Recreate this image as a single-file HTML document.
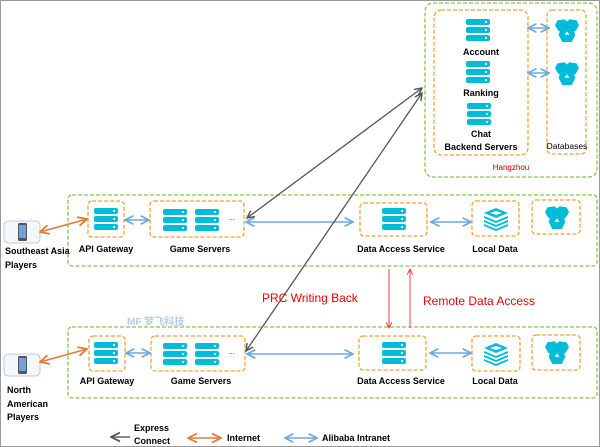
<!DOCTYPE html>
<html><head><meta charset="utf-8"><style>
html,body{margin:0;padding:0;background:#fff}
svg{display:block}
text{font-family:"Liberation Sans","Noto Sans CJK SC",sans-serif;font-weight:bold;font-size:9px;fill:#000}
</style></head><body>
<svg width="600" height="447" viewBox="0 0 600 447" xmlns="http://www.w3.org/2000/svg">
<defs>
<g id="srv">
<rect x="0" y="0" width="24" height="6" rx="2" fill="#00bcd9"/><circle cx="20" cy="3" r="1.1" fill="#fff"/>
<rect x="0" y="8" width="24" height="6" rx="2" fill="#00bcd9"/><circle cx="20" cy="11" r="1.1" fill="#fff"/>
<rect x="0" y="16" width="24" height="6" rx="2" fill="#00bcd9"/><circle cx="20" cy="19" r="1.1" fill="#fff"/>
</g>
<g id="db0">
<polygon points="-8,-8 -2,-9 2,-5 -1,1 -7,1 -10,-4" fill="#00bcd9"/>
<polygon points="8,-8 2,-9 -2,-5 1,1 7,1 10,-4" fill="#00bcd9"/>
<polygon points="-5,-1 5,-1 7,4 4,10 -4,10 -7,4" fill="#00bcd9"/>
<polygon points="0,1 2,4 -2,4" fill="#fff"/>
</g>
<g id="db"><use href="#db0" transform="scale(1.2)"/></g>
<g id="stack">
<polygon points="0,-9 12,-4 0,1 -12,-4" fill="#00bcd9"/>
<polygon points="-12,-1 0,4 12,-1 12,1 0,6 -12,1" fill="#00bcd9"/>
<polygon points="-12,3 0,8 12,3 12,5 0,10 -12,5" fill="#00bcd9"/>
<polygon points="-12,7 0,12 12,7 12,9 0,14 -12,9" fill="#00bcd9"/>
<polygon points="0,-6 6,-4 0,-2 -6,-4" fill="#fff"/>
</g>
<g id="phone">
<rect x="0" y="0" width="36" height="22" rx="4" fill="#f4f7fb" stroke="#a9c0dc" stroke-width="0.8"/>
<rect x="14" y="2" width="9" height="18" rx="1.5" fill="#555"/>
<rect x="15" y="4" width="7" height="13" fill="#6fa0e0"/>
</g>
<marker id="ab" viewBox="0 0 10 10" refX="9" refY="5" markerWidth="7" markerHeight="7" orient="auto-start-reverse"><path d="M1,1 L9,5 L1,9" fill="none" stroke="#6fa8dc" stroke-width="1.6"/></marker>
<marker id="ao" viewBox="0 0 10 10" refX="9" refY="5" markerWidth="7" markerHeight="7" orient="auto-start-reverse"><path d="M1,1 L9,5 L1,9" fill="none" stroke="#e07b39" stroke-width="1.6"/></marker>
<marker id="ag" viewBox="0 0 10 10" refX="9" refY="5" markerWidth="7" markerHeight="7" orient="auto-start-reverse"><path d="M1,1 L9,5 L1,9" fill="none" stroke="#555" stroke-width="1.6"/></marker>
<marker id="ar" viewBox="0 0 10 10" refX="9" refY="5" markerWidth="7" markerHeight="7" orient="auto"><path d="M1,1 L9,5 L1,9" fill="none" stroke="#f04040" stroke-width="1.4"/></marker>
</defs>
<rect x="0.5" y="0.5" width="599" height="446" fill="none" stroke="#999"/>

<!-- Hangzhou -->
<rect x="425" y="3" width="172" height="174" rx="8" fill="none" stroke="#8bc34a" stroke-width="1.3" stroke-dasharray="4,2"/>
<rect x="434" y="10" width="94" height="145" rx="7" fill="none" stroke="#f5a030" stroke-width="1.3" stroke-dasharray="4,2"/>
<rect x="547" y="10" width="39" height="144" rx="5" fill="none" stroke="#f5a030" stroke-width="1.3" stroke-dasharray="4,2"/>
<use href="#srv" x="466" y="19"/>
<use href="#srv" x="466" y="61"/>
<use href="#srv" x="467" y="103"/>
<text x="481" y="55" text-anchor="middle">Account</text>
<text x="481" y="96" text-anchor="middle">Ranking</text>
<text x="481" y="137" text-anchor="middle">Chat</text>
<text x="481" y="150" text-anchor="middle">Backend Servers</text>
<text x="567" y="149" text-anchor="middle" style="font-weight:normal;font-size:8.5px">Databases</text>
<use href="#db" x="567" y="30"/>
<use href="#db" x="567" y="73"/>
<line x1="528" y1="28" x2="549" y2="28" stroke="#6fa8dc" stroke-width="1.5" marker-start="url(#ab)" marker-end="url(#ab)"/>
<line x1="528" y1="73" x2="549" y2="73" stroke="#6fa8dc" stroke-width="1.5" marker-start="url(#ab)" marker-end="url(#ab)"/>
<text x="511" y="170" text-anchor="middle" style="fill:#c00000;font-weight:normal;font-size:8px">Hangzhou</text>

<!-- Row 1 -->
<rect x="68" y="195" width="529" height="71" rx="4" fill="none" stroke="#8bc34a" stroke-width="1.3" stroke-dasharray="4,2"/>
<rect x="88" y="201" width="36" height="36" rx="4" fill="none" stroke="#f5a030" stroke-width="1.3" stroke-dasharray="4,2"/>
<use href="#srv" x="94" y="208"/>
<rect x="150" y="201" width="94" height="36" rx="4" fill="none" stroke="#f5a030" stroke-width="1.3" stroke-dasharray="4,2"/>
<use href="#srv" x="163" y="209"/><use href="#srv" x="195" y="209"/>
<text x="228" y="220" style="font-weight:normal;font-size:7px">…</text>
<rect x="360" y="203" width="67" height="33" rx="4" fill="none" stroke="#f5a030" stroke-width="1.3" stroke-dasharray="4,2"/>
<use href="#srv" x="382" y="208"/>
<rect x="472" y="201" width="47" height="35" rx="4" fill="none" stroke="#f5a030" stroke-width="1.3" stroke-dasharray="4,2"/>
<use href="#stack" x="496" y="217"/>
<rect x="532" y="200" width="48" height="34" rx="4" fill="none" stroke="#f5a030" stroke-width="1.3" stroke-dasharray="4,2"/>
<use href="#db" x="557" y="217"/>
<text x="106" y="252" text-anchor="middle">API Gateway</text>
<text x="200" y="252" text-anchor="middle">Game Servers</text>
<text x="401" y="252" text-anchor="middle">Data Access Service</text>
<text x="495" y="252" text-anchor="middle">Local Data</text>
<use href="#phone" x="4" y="221"/>
<text x="5" y="254">Southeast Asia</text>
<text x="5" y="268">Players</text>
<line x1="40" y1="232" x2="87" y2="219" stroke="#e07b39" stroke-width="1.6" marker-start="url(#ao)" marker-end="url(#ao)"/>
<line x1="125" y1="220" x2="149" y2="220" stroke="#6fa8dc" stroke-width="1.5" marker-start="url(#ab)" marker-end="url(#ab)"/>
<line x1="246" y1="222" x2="353" y2="222" stroke="#6fa8dc" stroke-width="1.5" marker-start="url(#ab)" marker-end="url(#ab)"/>
<line x1="431" y1="222" x2="471" y2="222" stroke="#6fa8dc" stroke-width="1.5" marker-start="url(#ab)" marker-end="url(#ab)"/>

<!-- Row 2 -->
<rect x="68" y="327" width="529" height="71" rx="4" fill="none" stroke="#8bc34a" stroke-width="1.3" stroke-dasharray="4,2"/>
<rect x="89" y="336" width="36" height="35" rx="4" fill="none" stroke="#f5a030" stroke-width="1.3" stroke-dasharray="4,2"/>
<use href="#srv" x="94" y="342"/>
<rect x="151" y="336" width="94" height="35" rx="4" fill="none" stroke="#f5a030" stroke-width="1.3" stroke-dasharray="4,2"/>
<use href="#srv" x="163" y="343"/><use href="#srv" x="195" y="343"/>
<text x="228" y="354" style="font-weight:normal;font-size:7px">…</text>
<rect x="359" y="336" width="67" height="34" rx="4" fill="none" stroke="#f5a030" stroke-width="1.3" stroke-dasharray="4,2"/>
<use href="#srv" x="382" y="342"/>
<rect x="472" y="336" width="48" height="35" rx="4" fill="none" stroke="#f5a030" stroke-width="1.3" stroke-dasharray="4,2"/>
<use href="#stack" x="496" y="352"/>
<rect x="532" y="335" width="48" height="35" rx="4" fill="none" stroke="#f5a030" stroke-width="1.3" stroke-dasharray="4,2"/>
<use href="#db" x="557" y="352"/>
<text x="107" y="384" text-anchor="middle">API Gateway</text>
<text x="201" y="384" text-anchor="middle">Game Servers</text>
<text x="401" y="384" text-anchor="middle">Data Access Service</text>
<text x="495" y="384" text-anchor="middle">Local Data</text>
<use href="#phone" x="4" y="354"/>
<text x="7" y="393">North</text>
<text x="7" y="407">American</text>
<text x="7" y="420">Players</text>
<line x1="40" y1="362" x2="87" y2="349" stroke="#e07b39" stroke-width="1.6" marker-start="url(#ao)" marker-end="url(#ao)"/>
<line x1="126" y1="353" x2="150" y2="353" stroke="#6fa8dc" stroke-width="1.5" marker-start="url(#ab)" marker-end="url(#ab)"/>
<line x1="247" y1="354" x2="353" y2="354" stroke="#6fa8dc" stroke-width="1.5" marker-start="url(#ab)" marker-end="url(#ab)"/>
<line x1="430" y1="353" x2="471" y2="353" stroke="#6fa8dc" stroke-width="1.5" marker-start="url(#ab)" marker-end="url(#ab)"/>

<!-- watermark -->
<text x="127" y="325" style="fill:#9ab8de;font-size:10px;opacity:0.7">MF 梦飞科技</text>

<!-- gray express connect -->
<line x1="247" y1="218" x2="422" y2="88" stroke="#555" stroke-width="1.3" marker-start="url(#ag)" marker-end="url(#ag)"/>
<line x1="246" y1="351" x2="422" y2="93" stroke="#555" stroke-width="1.3" marker-start="url(#ag)" marker-end="url(#ag)"/>

<!-- red -->
<line x1="389" y1="269" x2="389" y2="328" stroke="#f04040" stroke-width="1" marker-end="url(#ar)"/>
<line x1="410" y1="328" x2="410" y2="269" stroke="#f04040" stroke-width="1" marker-end="url(#ar)"/>
<text x="262" y="302" style="fill:#f00000;font-weight:normal;font-size:12px">PRC Writing Back</text>
<text x="423" y="305" style="fill:#f00000;font-weight:normal;font-size:12px">Remote Data Access</text>

<!-- legend -->
<line x1="130" y1="437" x2="111" y2="437" stroke="#666" stroke-width="1.6" marker-end="url(#ag)"/>
<text x="134" y="431">Express</text>
<text x="134" y="444">Connect</text>
<line x1="188" y1="438" x2="221" y2="438" stroke="#e07b39" stroke-width="1.6" marker-start="url(#ao)" marker-end="url(#ao)"/>
<text x="227" y="441">Internet</text>
<line x1="285" y1="438" x2="317" y2="438" stroke="#6fa8dc" stroke-width="1.5" marker-start="url(#ab)" marker-end="url(#ab)"/>
<text x="322" y="441">Alibaba Intranet</text>
</svg>
</body></html>
